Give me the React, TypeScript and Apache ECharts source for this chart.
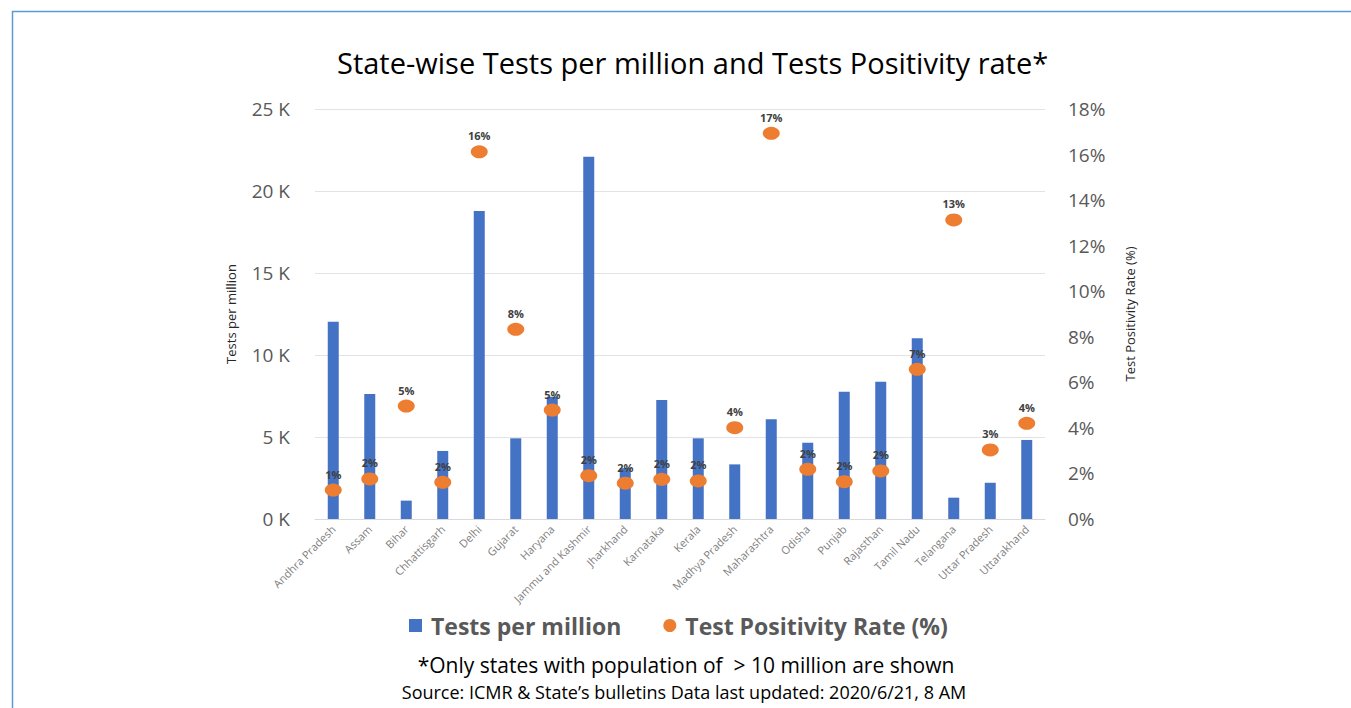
import React, { useEffect, useRef } from "react";
import * as echarts from "echarts";

const states = [
  "Andhra Pradesh", "Assam", "Bihar", "Chhattisgarh", "Delhi", "Gujarat", "Haryana",
  "Jammu and Kashmir", "Jharkhand", "Karnataka", "Kerala", "Madhya Pradesh", "Maharashtra",
  "Odisha", "Punjab", "Rajasthan", "Tamil Nadu", "Telangana", "Uttar Pradesh", "Uttarakhand",
];
const testsPerMillion = [
  12030, 7620, 1120, 4150, 18780, 4920, 7460, 22090, 3100, 7260,
  4920, 3330, 6080, 4650, 7760, 8370, 11020, 1300, 2210, 4820,
];
const positivityRate = [
  1.27, 1.76, 4.96, 1.61, 16.12, 8.33, 4.78, 1.9, 1.57, 1.74,
  1.67, 4.01, 16.93, 2.18, 1.64, 2.11, 6.57, 13.13, 3.03, 4.2,
];

const titleText = "State-wise Tests per million and Tests Positivity rate*";
const noteText = "*Only states with population of  > 10 million are shown";
const sourceText = "Source: ICMR & State\u2019s bulletins Data last updated: 2020/6/21, 8 AM";

const ui = "'Open Sans', 'Noto Sans', sans-serif";

export default function App() {
  const ref = useRef<HTMLDivElement>(null);
  useEffect(() => {
    document.body.style.margin = "0";
    const chart = echarts.init(ref.current!, undefined, { renderer: "svg" });
    chart.setOption({
      animation: false,
      backgroundColor: "#ffffff",
      title: {
        text: titleText,
        left: 332,
        top: 43,
        textStyle: { fontFamily: ui, fontSize: 29, fontWeight: "normal", color: "#000000" },
      },
      grid: { left: 315, right: 306, top: 109, bottom: 189 },
      legend: {
        bottom: 66,
        left: 404,
        itemGap: 42,
        itemWidth: 13,
        itemHeight: 13,
        textStyle: { fontFamily: ui, fontSize: 23, fontWeight: "bold", color: "#595959", padding: [0, 0, 0, 4] },
        data: [
          { name: "Tests per million", icon: "rect" },
          { name: "Test Positivity Rate (%)", icon: "circle" },
        ],
      },
      xAxis: {
        type: "category",
        data: states,
        axisLine: { lineStyle: { color: "#D9D9D9" } },
        axisTick: { show: false },
        axisLabel: { rotate: 45, fontSize: 11, color: "#7F7F7F", fontFamily: ui, interval: 0, margin: 8 },
      },
      yAxis: [
        {
          type: "value",
          min: 0,
          max: 25000,
          interval: 5000,
          name: "Tests per million",
          nameLocation: "middle",
          nameGap: 78,
          nameRotate: 90,
          nameTextStyle: { fontFamily: ui, fontSize: 13, color: "#262626" },
          axisLine: { show: false },
          axisTick: { show: false },
          axisLabel: {
            formatter: (v: number) => v / 1000 + " K",
            fontSize: 19,
            color: "#595959",
            fontFamily: ui,
            margin: 25,
          },
          splitLine: { lineStyle: { color: "#E3E3E3" } },
        },
        {
          type: "value",
          min: 0,
          max: 18,
          interval: 2,
          name: "Test Positivity Rate (%)",
          nameLocation: "middle",
          nameGap: 78,
          nameRotate: 90,
          nameTextStyle: { fontFamily: ui, fontSize: 13, color: "#262626" },
          axisLine: { show: false },
          axisTick: { show: false },
          axisLabel: {
            formatter: (v: number) => v + "%",
            fontSize: 19,
            color: "#595959",
            fontFamily: ui,
            margin: 23,
          },
          splitLine: { show: false },
        },
      ],
      series: [
        {
          name: "Tests per million",
          type: "bar",
          data: testsPerMillion,
          barWidth: 11,
          itemStyle: { color: "#4472C4" },
        },
        {
          name: "Test Positivity Rate (%)",
          type: "scatter",
          yAxisIndex: 1,
          data: positivityRate,
          symbol: "circle",
          symbolSize: [17, 13],
          itemStyle: { color: "#ED7D31", opacity: 1 },
          z: 5,
          label: {
            show: true,
            position: "top",
            distance: 4,
            formatter: (p: any) => Math.round(p.value) + "%",
            fontSize: 11,
            fontWeight: "bold",
            color: "#404040",
            fontFamily: ui,
          },
        },
      ],
      graphic: [
        { type: "line", shape: { x1: 12, y1: 11.5, x2: 1351, y2: 11.5 }, style: { stroke: "#5B9BD5", lineWidth: 1.5 } },
        { type: "line", shape: { x1: 12.5, y1: 11, x2: 12.5, y2: 708 }, style: { stroke: "#5B9BD5", lineWidth: 1.5 } },
        {
          type: "text",
          x: 686,
          y: 665,
          style: { text: noteText, fontFamily: ui, fontSize: 21, fill: "#000000", align: "center", verticalAlign: "middle" },
        },
        {
          type: "text",
          x: 684,
          y: 692,
          style: { text: sourceText, fontFamily: ui, fontSize: 18, fill: "#000000", align: "center", verticalAlign: "middle" },
        },
      ],
    });
    return () => chart.dispose();
  }, []);
  return <div ref={ref} style={{ width: 1351, height: 708 }} />;
}
